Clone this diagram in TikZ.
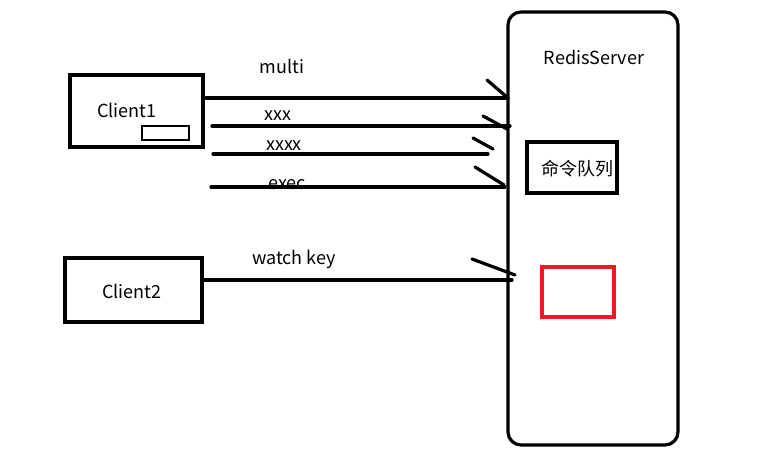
\documentclass[tikz,border=0pt]{standalone}
\usepackage{fontspec}
\setmainfont{Noto Sans CJK SC}
\definecolor{boxred}{RGB}{237,28,36}
\begin{document}
\begin{tikzpicture}[x=1pt,y=-1pt,
  lbl/.style={font=\fontsize{18}{21}\selectfont, inner sep=0pt},
  line/.style={line width=3.2pt, line cap=round}]
\useasboundingbox (0,0) rectangle (780,462);
% server
\draw[line width=3.2pt, rounded corners=13pt] (508,12) rectangle (678,445);
\node[lbl] (rs) at (594,57) {RedisServer};
\draw[line width=3.2pt] (527,142) rectangle (617,193);
\node[lbl] (queue) at (577,169) {命令队列};
\draw[line width=3.2pt, boxred] (542,267) rectangle (614,317);
% client1
\draw[line width=3.2pt] (70,75) rectangle (203,147);
\node[lbl] (c1) at (127,110) {Client1};
\draw[line width=2.6pt] (142,126) rectangle (189,140);
% client2
\draw[line width=3.2pt] (65,258) rectangle (202,322);
\node[lbl] (c2) at (132,291) {Client2};
% labels
\node[lbl] (lm) at (282,66) {multi};
\node[lbl] (lx) at (278,116) {xxx};
\node[lbl] (lxx) at (284,146) {xxxx};
\node[lbl] (le) at (287,185) {exec};
\node[lbl] (lw) at (294,259) {watch key};
% connectors
\coordinate (m1) at (206,98); \coordinate (m2) at (508,98);
\coordinate (x1) at (212,126); \coordinate (x2) at (510,126);
\coordinate (y1) at (213,154); \coordinate (y2) at (488,154);
\coordinate (e1) at (211,187); \coordinate (e2) at (505,187);
\coordinate (w1) at (202,280); \coordinate (w2) at (512,280);
\draw[line] (m1) -- (m2);
\draw[line] (487,80) -- (m2);
\draw[line] (x1) -- (x2);
\draw[line] (483,116) -- (507,129);
\draw[line] (y1) -- (y2);
\draw[line] (473,138) -- (493,149);
\draw[line] (e1) -- (e2);
\draw[line] (475,167) -- (504,185);
\draw[line] (w1) -- (w2);
\draw[line] (472,259) -- (515,275);
\end{tikzpicture}
\end{document}
